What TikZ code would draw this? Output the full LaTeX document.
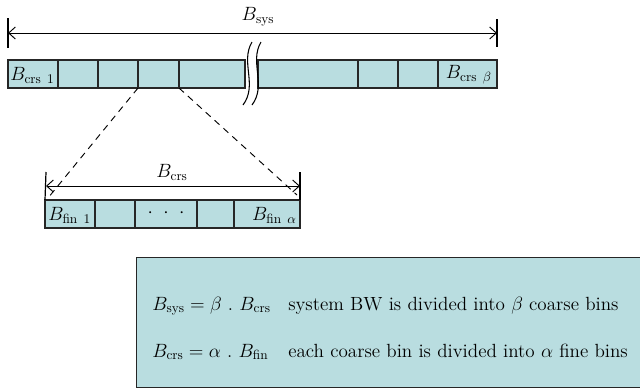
\documentclass[tikz,border=0pt]{standalone}
\usetikzlibrary{arrows.meta}
\definecolor{binfill}{RGB}{185,221,224}
\begin{document}
\begin{tikzpicture}[x=0.75pt,y=-0.75pt,
  every node/.style={font=\fontsize{14.3}{17}\selectfont},
  bin/.style={draw=black!85, line width=0.8pt, fill=binfill, anchor=north west,
    minimum height=28*0.75pt, minimum width=#1*0.75pt, inner sep=0pt, outer sep=0pt},
  tick/.style={line width=0.9pt},
  span/.style={line width=0.7pt, {Straight Barb[length=5pt,width=9pt]}-{Straight Barb[length=5pt,width=9pt]}},
  zoomline/.style={dashed, line width=0.7pt, dash pattern=on 5pt off 4pt},
  breakline/.style={line width=0.8pt}]
\useasboundingbox (0,0) rectangle (640,390);

% coarse bins of the system band
\node[bin=50]  (c1) at (8,60)   {};
\node[bin=40]  (c2) at (58,60)  {};
\node[bin=40]  (c3) at (98,60)  {};
\node[bin=41]  (c4) at (138,60) {};
\node[bin=66]  (c5) at (179,60) {};
\node[bin=100] (c6) at (258,60) {};
\node[bin=40]  (c7) at (358,60) {};
\node[bin=40]  (c8) at (398,60) {};
\node[bin=59]  (c9) at (438,60) {};
\node[anchor=west, inner sep=0pt] at (10,75) {$B_{\mathrm{crs}\ 1}$};
\node[anchor=east, inner sep=0pt] at (492,75) {$B_{\mathrm{crs}\ \beta}$};

% break marks
\draw[breakline] (252,42) .. controls (240,62) and (258,85) .. (243,105);
\draw[breakline] (261,42) .. controls (249,62) and (267,85) .. (252,105);

% system bandwidth span
\coordinate (sL) at (8,33);
\coordinate (sR) at (497,33);
\draw[tick] (8,18) -- (8,48);
\draw[tick] (497,19) -- (497,47);
\draw[span] (sL) -- (sR);
\node (bsys) at (258,17) {$B_{\mathrm{sys}}$};

% fine bins of one coarse bin
\node[bin=50] (f1) at (45,200)  {};
\node[bin=40] (f2) at (95,200)  {};
\node[bin=62] (f3) at (135,200) {};
\node[bin=37] (f4) at (197,200) {};
\node[bin=66] (f5) at (234,200) {};
\node[anchor=west, inner sep=0pt] at (48,215) {$B_{\mathrm{fin}\ 1}$};
\node at (166,213) {$\cdot\ \cdot\ \cdot$};
\node[anchor=east, inner sep=0pt] at (297,215) {$B_{\mathrm{fin}\ \alpha}$};

% coarse bin bandwidth span
\coordinate (cL) at (46,186);
\coordinate (cR) at (300,186);
\draw[tick] (46,172) -- (f1.north west);
\draw[tick] (300,172) -- (f5.north east);
\draw[span] (cL) -- (cR);
\node (bcrs) at (172,172) {$B_{\mathrm{crs}}$};

% zoom lines from the expanded coarse bin
\coordinate (zL) at (48,198);
\coordinate (zR) at (297,195);
\draw[zoomline] (c4.south west) -- (zL);
\draw[zoomline] (c4.south east) -- (zR);

% legend box
\node[draw=black!85, line width=0.8pt, fill=binfill, anchor=north west,
  minimum width=520*0.75pt, minimum height=130*0.75pt, inner sep=0pt] (legend) at (136,257) {};
\node[anchor=base west, inner sep=0pt] at (152,310) {$B_{\mathrm{sys}} = \beta\ .\ B_{\mathrm{crs}}$};
\node[anchor=base west, inner sep=0pt] at (288,310) {system BW is divided into $\beta$ coarse bins};
\node[anchor=base west, inner sep=0pt] at (152,357) {$B_{\mathrm{crs}} = \alpha\ .\ B_{\mathrm{fin}}$};
\node[anchor=base west, inner sep=0pt] at (288,357) {each coarse bin is divided into $\alpha$ fine bins};
\end{tikzpicture}
\end{document}
